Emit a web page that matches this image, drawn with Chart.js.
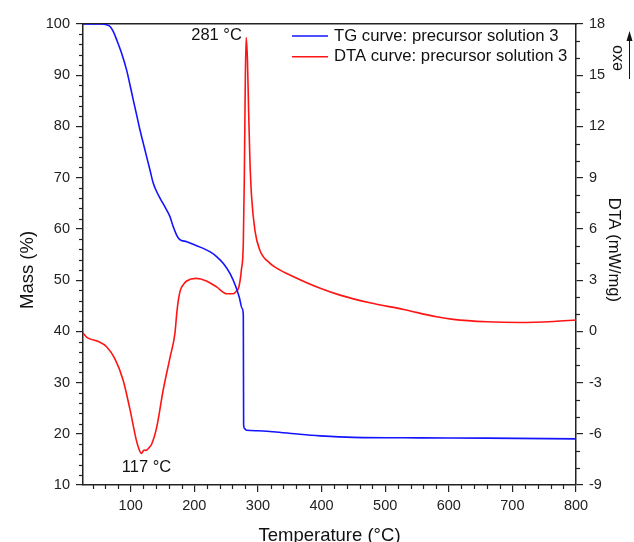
<!DOCTYPE html>
<html>
<head>
<meta charset="utf-8">
<script src="https://cdn.jsdelivr.net/npm/chart.js@4.4.1/dist/chart.umd.min.js"></script>
<style>
  html, body { margin: 0; padding: 0; background: #ffffff; }
  #wrap { width: 634px; height: 542px; position: relative; }
</style>
</head>
<body>
<div id="wrap"><canvas id="c" width="634" height="542"></canvas></div>
<script>
// ---- Data ----
const tgTemp = [25, 40, 55, 62, 67.5, 72.7, 78, 85.7, 93.6, 98.9, 104, 109.4, 114.6, 119.8, 125, 130.3, 135.5, 140.7, 146, 153.8, 161.7, 166.9, 172.2, 176.3, 188, 200, 214, 225, 235, 246, 256, 265, 271, 275, 277, 277.5, 279, 282, 300, 324, 366, 398, 450, 555, 660, 800];
const tgMass = [100, 100, 100, 99.85, 99.5, 98.5, 96.9, 94.3, 91.0, 88.1, 85.2, 82.2, 79.3, 76.7, 74.1, 71.5, 68.9, 67.3, 66.0, 64.3, 62.4, 60.4, 58.8, 58.0, 57.5, 56.9, 56.2, 55.5, 54.6, 53.2, 51.3, 48.8, 46.5, 44.5, 43.2, 21.8, 21.0, 20.7, 20.6, 20.4, 19.9, 19.6, 19.3, 19.2, 19.15, 19.0];

const dtaTemp = [25, 31, 49, 62, 75, 88, 99, 109, 113.5, 117, 121, 124, 128, 133, 141, 151, 162, 169.5, 172.5, 175, 178, 183, 188, 203, 219, 235, 251, 261, 266, 270, 274, 277, 278.6, 280.2, 281.5, 283.5, 285.3, 287.4, 290, 295.3, 303, 319, 330, 356, 398, 429, 476, 529, 581, 607, 660, 712, 765, 800];
const dtaVal  = [-0.1, -0.35, -0.6, -0.9, -1.6, -2.85, -4.6, -6.4, -6.95, -7.15, -6.95, -6.97, -6.85, -6.6, -5.6, -3.45, -1.5, -0.12, 1.1, 1.85, 2.4, 2.75, 2.95, 3.1, 2.95, 2.6, 2.2, 2.2, 2.35, 2.6, 3.6, 5.15, 9.0, 14.9, 17.2, 15.9, 13.0, 10.0, 7.9, 5.9, 4.75, 3.98, 3.69, 3.2, 2.52, 2.12, 1.67, 1.28, 0.85, 0.70, 0.56, 0.52, 0.58, 0.66];

const xTickLabels = [100, 200, 300, 400, 500, 600, 700, 800];
const massTicks = [10, 20, 30, 40, 50, 60, 70, 80, 90, 100];
const dtaTicks = [-9, -6, -3, 0, 3, 6, 9, 12, 15, 18];

const seriesNames = ['TG curve: precursor solution 3', 'DTA curve: precursor solution 3'];
const peakLabels = [{ t: 281, v: 17.2, text: '281 \u00B0C' }, { t: 117, v: -7.15, text: '117 \u00B0C' }];

// ---- Styling ----
const FONT = '"Liberation Sans", Arial, Helvetica, sans-serif';
const AXIS = '#222222';
const BLUE = '#1414ff';
const RED = '#ff1414';

const minorTicks = {
  x: { from: 40, to: 780, step: 20, skip: 100 },
  y: { from: 12, to: 98, step: 2, skip: 10 },
  y1: { from: -8, to: 17, step: 1, skip: 3 }
};

const extrasPlugin = {
  id: 'extras',
  afterDraw(chart) {
    const ctx = chart.ctx;
    const ca = chart.chartArea;
    ctx.save();
    ctx.strokeStyle = AXIS;
    ctx.lineWidth = 1.2;
    // minor ticks
    const len = 4;
    for (const id of ['x', 'y', 'y1']) {
      const sc = chart.scales[id];
      const m = minorTicks[id];
      for (let v = m.from; v <= m.to + 1e-9; v += m.step) {
        if (Math.abs(v / m.skip - Math.round(v / m.skip)) < 1e-9) continue;
        const p = Math.round(sc.getPixelForValue(v)) + 0.5;
        ctx.beginPath();
        if (id === 'x') { ctx.moveTo(p, ca.bottom); ctx.lineTo(p, ca.bottom + len); }
        else if (id === 'y') { ctx.moveTo(ca.left, p); ctx.lineTo(ca.left - len, p); }
        else { ctx.moveTo(ca.right, p); ctx.lineTo(ca.right + len, p); }
        ctx.stroke();
      }
    }
    // legend inside plot
    ctx.font = '16.7px ' + FONT;
    ctx.textBaseline = 'middle';
    ctx.textAlign = 'left';
    const lx = 292, ly = 36, gap = 20.7;
    chart.data.datasets.forEach((ds, i) => {
      const y = ly + i * gap;
      ctx.strokeStyle = ds.borderColor;
      ctx.lineWidth = 1.5;
      ctx.beginPath(); ctx.moveTo(lx, y); ctx.lineTo(lx + 36, y); ctx.stroke();
      ctx.fillStyle = '#111';
      ctx.fillText(ds.label, lx + 42, y);
    });
    // peak labels
    const xs = chart.scales.x, ys = chart.scales.y1;
    ctx.fillStyle = '#111';
    ctx.font = '16.5px ' + FONT;
    ctx.textAlign = 'right';
    ctx.fillText(peakLabels[0].text, xs.getPixelForValue(peakLabels[0].t) - 4, ys.getPixelForValue(peakLabels[0].v) - 2);
    ctx.textAlign = 'center';
    ctx.fillText(peakLabels[1].text, xs.getPixelForValue(peakLabels[1].t) + 5, ys.getPixelForValue(peakLabels[1].v) + 14);
    // exo arrow
    ctx.strokeStyle = '#111';
    ctx.fillStyle = '#111';
    ctx.lineWidth = 1;
    const ax = 629.5;
    ctx.beginPath(); ctx.moveTo(ax, 79); ctx.lineTo(ax, 38); ctx.stroke();
    ctx.beginPath(); ctx.moveTo(ax, 31); ctx.lineTo(ax - 3, 41); ctx.lineTo(ax + 3, 41); ctx.closePath(); ctx.fill();
    ctx.save();
    ctx.translate(618, 58);
    ctx.rotate(-Math.PI / 2);
    ctx.textAlign = 'center';
    ctx.textBaseline = 'middle';
    ctx.font = '16px ' + FONT;
    ctx.fillText('exo', 0, 0);
    ctx.restore();
    ctx.restore();
  }
};

const toPoints = (xs, ys) => xs.map((t, i) => ({ x: t, y: ys[i] }));
const tickFont = { family: FONT, size: 14.5 };

new Chart(document.getElementById('c'), {
  type: 'line',
  data: {
    datasets: [
      { label: seriesNames[0], data: toPoints(tgTemp, tgMass), yAxisID: 'y', borderColor: BLUE, borderWidth: 1.6, pointRadius: 0, cubicInterpolationMode: 'monotone', fill: false },
      { label: seriesNames[1], data: toPoints(dtaTemp, dtaVal), yAxisID: 'y1', borderColor: RED, borderWidth: 1.6, pointRadius: 0, cubicInterpolationMode: 'monotone', fill: false }
    ]
  },
  options: {
    responsive: false,
    animation: false,
    layout: { padding: { top: 24, left: 0, right: 0, bottom: 0 } },
    plugins: { legend: { display: false }, tooltip: { enabled: false } },
    scales: {
      x: {
        type: 'linear', position: 'bottom', min: 25, max: 800,
        afterBuildTicks: (s) => { s.ticks = xTickLabels.map(v => ({ value: v })); },
        afterFit: (s) => { s.height = 57; },
        grid: { drawOnChartArea: false, drawTicks: true, tickLength: 7, color: AXIS, lineWidth: 1.2 },
        border: { display: true, color: AXIS, width: 1.5 },
        ticks: { font: tickFont, color: '#222', padding: 5, maxRotation: 0 },
        title: { display: true, text: 'Temperature (\u00B0C)', font: { family: FONT, size: 18.5, lineHeight: 1 }, color: '#111', padding: { top: 0, bottom: -3 } }
      },
      xTop: {
        type: 'linear', position: 'top', min: 25, max: 800,
        afterFit: (s) => { s.height = 0; },
        grid: { display: false, drawTicks: false },
        ticks: { display: false },
        border: { display: true, color: AXIS, width: 1.5 }
      },
      y: {
        type: 'linear', position: 'left', min: 10, max: 100,
        afterBuildTicks: (s) => { s.ticks = massTicks.map(v => ({ value: v })); },
        afterFit: (s) => { s.width = 83; },
        grid: { drawOnChartArea: false, drawTicks: true, tickLength: 7, color: AXIS, lineWidth: 1.2 },
        border: { display: true, color: AXIS, width: 1.5 },
        ticks: { font: tickFont, color: '#222', padding: 6 },
        title: { display: true, text: 'Mass (%)      ', font: { family: FONT, size: 18.5, lineHeight: 1 }, color: '#111', padding: { top: 19, bottom: 0 } }
      },
      y1: {
        type: 'linear', position: 'right', min: -9, max: 18,
        afterBuildTicks: (s) => { s.ticks = dtaTicks.map(v => ({ value: v })); },
        afterFit: (s) => { s.width = 58; },
        grid: { drawOnChartArea: false, drawTicks: true, tickLength: 7, color: AXIS, lineWidth: 1.2 },
        border: { display: true, color: AXIS, width: 1.5 },
        ticks: { font: tickFont, color: '#222', padding: 6 },
        title: { display: true, text: 'DTA (mW/mg)  ', font: { family: FONT, size: 16.5, lineHeight: 1 }, color: '#111', padding: { top: 12, bottom: 0 } }
      }
    }
  },
  plugins: [extrasPlugin]
});
</script>
</body>
</html>
